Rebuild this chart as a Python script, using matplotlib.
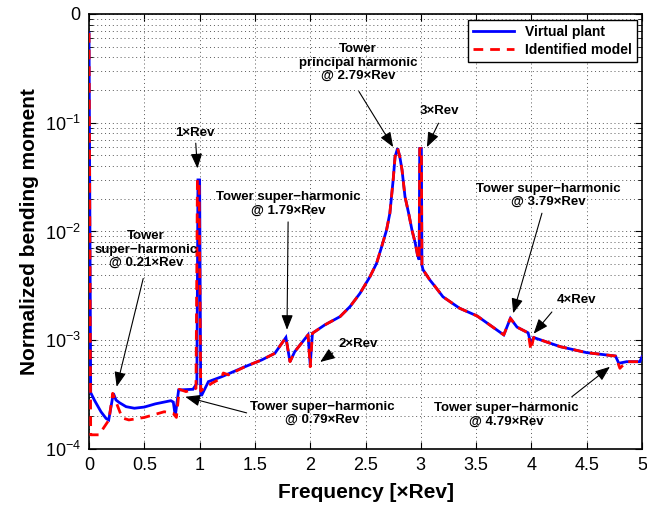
import matplotlib
matplotlib.use("Agg")
import matplotlib.pyplot as plt
from matplotlib.ticker import LogLocator, NullFormatter, FixedLocator

plt.rcParams['font.family'] = ['Liberation Sans', 'DejaVu Sans']
plt.rcParams['mathtext.fontset'] = 'custom'
plt.rcParams['mathtext.rm'] = 'Liberation Sans'
plt.rcParams['mathtext.it'] = 'Liberation Sans:italic'
plt.rcParams['mathtext.bf'] = 'Liberation Sans:bold'

# ---------------- data ----------------
freq_plant = [0.0, 0.015, 0.048, 0.108, 0.154, 0.178, 0.22, 0.244, 0.274, 0.335,
              0.41, 0.5, 0.6, 0.74, 0.762, 0.78, 0.81, 0.94, 0.975, 0.985,
              1.0, 1.01, 1.02, 1.079, 1.2, 1.41, 1.56, 1.68, 1.78, 1.817,
              1.86, 1.98, 2.0, 2.02, 2.13, 2.27, 2.36, 2.45, 2.54, 2.60,
              2.646, 2.69, 2.72, 2.75, 2.767, 2.79, 2.81, 2.83, 2.857, 2.89,
              2.92, 2.95, 2.97, 2.985, 2.99, 3.005, 3.01, 3.02, 3.08, 3.13,
              3.20, 3.35, 3.51, 3.75, 3.81, 3.87, 3.97, 3.995, 4.02, 4.26,
              4.50, 4.76, 4.79, 4.86, 4.98, 5.0]
val_plant = [0.669, 3.3e-4, 2.82e-4, 2.20e-4, 1.91e-4, 1.85e-4, 3.25e-4, 2.82e-4, 2.67e-4, 2.45e-4,
             2.37e-4, 2.43e-4, 2.60e-4, 2.78e-4, 2.70e-4, 2.01e-4, 3.49e-4, 3.54e-4, 4.0e-4, 0.0298,
             0.0298, 3.14e-4, 3.14e-4, 4.16e-4, 4.62e-4, 5.71e-4, 6.58e-4, 7.58e-4, 1.06e-3, 6.35e-4,
             7.85e-4, 1.12e-3, 5.92e-4, 1.16e-3, 1.38e-3, 1.65e-3, 2.04e-3, 2.70e-3, 3.84e-3, 5.10e-3,
             7.25e-3, 0.0103, 0.0147, 0.0298, 0.0487, 0.0582, 0.0487, 0.0368, 0.0209, 0.0147,
             0.0103, 7.79e-3, 6.08e-3, 5.5e-3, 0.058, 0.058, 4.9e-3, 4.45e-3, 3.6e-3, 3.11e-3,
             2.51e-3, 1.97e-3, 1.67e-3, 1.12e-3, 1.59e-3, 1.32e-3, 1.17e-3, 9.37e-4, 1.06e-3, 8.73e-4,
             7.69e-4, 7.16e-4, 6.14e-4, 6.35e-4, 6.35e-4, 7.06e-4]

freq_model = [0.0, 0.015, 0.09, 0.18, 0.214, 0.30, 0.36, 0.5, 0.68, 0.76,
              0.79, 0.816, 0.877, 0.967, 0.98, 0.995, 1.01, 1.02, 1.11, 1.20,
              1.214, 1.26, 1.41, 1.56, 1.68, 1.78, 1.817, 1.86, 1.98, 2.0,
              2.02, 2.13, 2.27, 2.36, 2.45, 2.54, 2.60, 2.646, 2.69, 2.72,
              2.75, 2.767, 2.79, 2.81, 2.83, 2.857, 2.89, 2.92, 2.95, 2.97,
              2.985, 2.99, 3.005, 3.01, 3.02, 3.08, 3.13, 3.20, 3.35, 3.51,
              3.75, 3.81, 3.87, 3.97, 3.995, 4.02, 4.26, 4.50, 4.76, 4.80,
              4.86, 4.98, 5.0]
val_model = [0.669, 1.35e-4, 1.35e-4, 1.85e-4, 3.25e-4, 1.93e-4, 1.85e-4, 1.95e-4, 2.20e-4, 2.13e-4,
             1.95e-4, 3.54e-4, 3.37e-4, 3.61e-4, 0.0298, 0.0298, 3.4e-4, 3.49e-4, 4.02e-4, 4.5e-4,
             5.0e-4, 4.8e-4, 5.71e-4, 6.58e-4, 7.58e-4, 1.06e-3, 6.35e-4, 7.85e-4, 1.12e-3, 5.7e-4,
             1.16e-3, 1.38e-3, 1.65e-3, 2.04e-3, 2.70e-3, 3.84e-3, 5.10e-3, 7.25e-3, 0.0103, 0.0147,
             0.0298, 0.0487, 0.0582, 0.0487, 0.0368, 0.0209, 0.0147, 0.0103, 7.79e-3, 6.08e-3,
             5.5e-3, 0.058, 0.058, 4.9e-3, 4.45e-3, 3.6e-3, 3.11e-3, 2.51e-3, 1.97e-3, 1.67e-3,
             1.12e-3, 1.59e-3, 1.32e-3, 1.17e-3, 8.13e-4, 1.06e-3, 8.73e-4, 7.69e-4, 7.16e-4, 5.52e-4,
             6.35e-4, 6.35e-4, 7.06e-4]

series_labels = ["Virtual plant", "Identified model"]
x_ticks = [0, 0.5, 1, 1.5, 2, 2.5, 3, 3.5, 4, 4.5, 5]
x_ticklabels = ["0", "0.5", "1", "1.5", "2", "2.5", "3", "3.5", "4", "4.5", "5"]
y_ticks = [1e-4, 1e-3, 1e-2, 1e-1, 1]
y_ticklabels = [r"$10^{-4}$", r"$10^{-3}$", r"$10^{-2}$", r"$10^{-1}$", "0"]

# annotations: (text, text centre in axes fraction, arrow tail, arrow head)
annotations = [
    ("Tower\nprincipal harmonic\n@ 2.79×Rev", (0.486, 0.888), (0.488, 0.822), (0.550, 0.694)),
    ("3×Rev", (0.633, 0.778), (0.632, 0.749), (0.611, 0.694)),
    ("1×Rev", (0.192, 0.727), (0.193, 0.703), (0.196, 0.645)),
    ("Tower super−harmonic\n@ 1.79×Rev", (0.360, 0.564), (0.360, 0.522), (0.358, 0.274)),
    ("Tower\nsuper−harmonic\n@ 0.21×Rev", (0.103, 0.458), (0.098, 0.392), (0.050, 0.143)),
    ("2×Rev", (0.487, 0.242), (0.441, 0.221), (0.418, 0.200)),
    ("Tower super−harmonic\n@ 0.79×Rev", (0.421, 0.082), (0.285, 0.083), (0.174, 0.120)),
    ("Tower super−harmonic\n@ 3.79×Rev", (0.830, 0.583), (0.819, 0.542), (0.767, 0.312)),
    ("4×Rev", (0.881, 0.343), (0.837, 0.315), (0.804, 0.265)),
    ("Tower super−harmonic\n@ 4.79×Rev", (0.754, 0.079), (0.873, 0.120), (0.942, 0.189)),
]

# ---------------- figure ----------------
fig = plt.figure(figsize=(6.47, 5.09), dpi=100)
ax = fig.add_axes([0.1376, 0.1179, 0.8547, 0.8546])

ax.plot(freq_plant, val_plant, color=(0, 0, 1), lw=2.0, solid_joinstyle='miter',
        label=series_labels[0], zorder=3)
ax.plot(freq_model, val_model, color=(1, 0, 0), lw=2.0, ls=(0, (3.5, 2.5)),
        label=series_labels[1], zorder=4)

ax.set_yscale('log')
ax.set_xlim(0, 5)
ax.set_ylim(1e-4, 1)
ax.set_xticks(x_ticks)
ax.set_xticklabels(x_ticklabels)
ax.yaxis.set_major_locator(FixedLocator(y_ticks))
ax.set_yticklabels(y_ticklabels)
ax.yaxis.set_minor_locator(LogLocator(base=10, subs=[2, 3, 4, 5, 6, 7, 8, 9]))
ax.yaxis.set_minor_formatter(NullFormatter())

ax.tick_params(axis='both', which='both', direction='in', top=True, right=True,
               labelsize=13, pad=6)
ax.tick_params(axis='both', which='major', length=5, width=0.8)
ax.tick_params(axis='y', which='minor', length=3, width=0.6)
ax.tick_params(axis='x', which='minor', length=0)

ax.grid(True, which='major', axis='both', linestyle=(0, (1, 3)), color='0.35', lw=0.7)
ax.grid(True, which='minor', axis='y', linestyle=(0, (1, 3)), color='0.35', lw=0.7)
for s in ax.spines.values():
    s.set_linewidth(1.2)

ax.set_xlabel("Frequency [×Rev]", fontsize=15, fontweight='bold', labelpad=6)
ax.set_ylabel("Normalized bending moment", fontsize=15, fontweight='bold', labelpad=4)

for txt, tpos, tail, head in annotations:
    ax.text(tpos[0], tpos[1], txt, transform=ax.transAxes, ha='center', va='center',
            fontsize=9.5, fontweight='bold', linespacing=1.15, zorder=6)
    ax.annotate('', xy=head, xycoords='axes fraction', xytext=tail, textcoords='axes fraction',
                arrowprops=dict(arrowstyle='-|>,head_length=0.9,head_width=0.35', color='k',
                                lw=0.8, shrinkA=0, shrinkB=0), zorder=6)

leg = ax.legend(loc='upper right', bbox_to_anchor=(0.991, 0.986), borderaxespad=0,
                fancybox=False, framealpha=1, edgecolor='k', handlelength=3.0,
                prop={'weight': 'bold', 'size': 10}, borderpad=0.35, labelspacing=0.3)
leg.get_frame().set_linewidth(1.0)

fig.savefig("out.png", dpi=100)
